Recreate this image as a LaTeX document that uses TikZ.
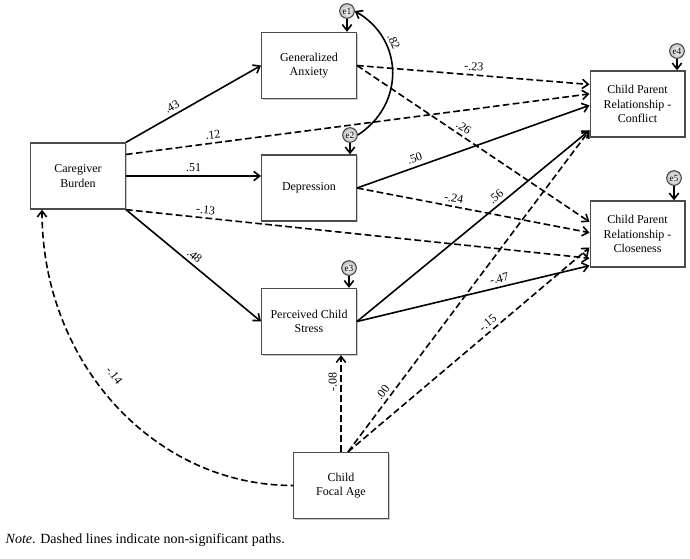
\documentclass[tikz,border=0pt]{standalone}
\usepackage{fontspec}
\setmainfont{Liberation Serif}
\usetikzlibrary{arrows.meta,calc,shadows}

\begin{document}
\begin{tikzpicture}[x=0.75pt, y=-0.75pt,
    varbox/.style={draw=black!70, line width=1pt, fill=white, minimum width=71pt, minimum height=49.5pt, align=center, font=\fontsize{9}{11}\selectfont,
        drop shadow={shadow xshift=0.9pt, shadow yshift=-0.9pt, opacity=0.35, fill=black!60}},
    errc/.style={circle, draw=black!80, line width=0.7pt, inner sep=0pt, minimum size=11pt, inner color=white, outer color=black!25, font=\fontsize{7}{7}\selectfont},
    sig/.style={line width=1.2pt, -{Straight Barb[length=4.5pt, width=7pt]}},
    nonsig/.style={sig, dash pattern=on 5pt off 2.5pt},
    coef/.style={font=\fontsize{9}{9}\selectfont, sloped, above, inner sep=2.5pt}]
    \useasboundingbox (0,0) rectangle (690,558);

    % variables
    \node[varbox] (cb) at (78,176) {Caregiver\\Burden};
    \node[varbox] (ga) at (309,65.5) {Generalized\\Anxiety};
    \node[varbox] (dep) at (309,188) {Depression};
    \node[varbox] (pcs) at (309,321.5) {Perceived Child\\Stress};
    \node[varbox] (cfa) at (341,485.5) {Child\\Focal Age};
    \node[varbox] (conf) at (637.5,104) {Child Parent\\Relationship -\\Conflict};
    \node[varbox] (clos) at (637.5,234) {Child Parent\\Relationship -\\Closeness};

    % error terms
    \node[errc] (e1) at (347,11) {e1};
    \node[errc] (e2) at (350,135) {e2};
    \node[errc] (e3) at (349,268) {e3};
    \node[errc] (e4) at (677,51) {e4};
    \node[errc] (e5) at (674,178) {e5};
    \draw[sig] (e1) -- (e1 |- ga.north);
    \draw[sig] (e2) -- (e2 |- dep.north);
    \draw[sig] (e3) -- (e3 |- pcs.north);
    \draw[sig] (e4) -- (e4 |- conf.north);
    \draw[sig] (e5) -- (e5 |- clos.north);
    \draw[sig, {Straight Barb[length=4.5pt, width=7pt]}-] (e1.east) .. controls +(50,29) and +(46.5,-30) .. (e2.east) node[coef, pos=.3] {.82};

    % paths from caregiver burden
    \draw[sig] (cb.north east) -- (ga.west) node[coef, pos=.37] {.43};
    \draw[nonsig] ($(cb.north east)!.18!(cb.south east)$) -- ($(conf.north west)!.35!(conf.south west)$) node[coef, pos=.19] {.12};
    \draw[sig] (cb.east) -- (cb.east -| dep.west) node[coef, pos=.5] {.51};
    \draw[nonsig] (cb.south east) -- ($(clos.north west)!.86!(clos.south west)$) node[coef, pos=.17] {-.13};
    \draw[sig] (cb.south east) -- (pcs.west) node[coef, pos=.47] {.48};

    % mediators to outcomes
    \draw[nonsig] (ga.east) -- ($(conf.north west)!.21!(conf.south west)$) node[coef, pos=.5] {-.23};
    \draw[nonsig] (ga.east) -- ($(clos.north west)!.32!(clos.south west)$) node[coef, pos=.44] {.26};
    \draw[sig] (dep.east) -- ($(conf.north west)!.52!(conf.south west)$) node[coef, pos=.26] {.50};
    \draw[nonsig] (dep.east) -- ($(clos.north west)!.48!(clos.south west)$) node[coef, pos=.41] {-.24};
    \draw[sig] (pcs.east) -- ($(conf.north west)!.89!(conf.south west)$) node[coef, pos=.62] {.56};
    \draw[sig] (pcs.east) -- ($(clos.north west)!.97!(clos.south west)$) node[coef, pos=.62] {-.47};

    % child focal age
    \draw[nonsig] (cfa.north) -- (cfa.north |- pcs.south) node[coef, pos=.72] {-.08};
    \draw[nonsig] ($(cfa.north)+(7,0)$) -- ($(conf.north west)!.89!(conf.south west)$) node[coef, pos=.17] {.00};
    \draw[nonsig] ($(cfa.north)+(7,0)$) -- ($(clos.north west)!.70!(clos.south west)$) node[coef, pos=.6] {-.15};
    \draw[nonsig, {Straight Barb[length=4.5pt, width=7pt]}-] ($(cb.south west)+(12,0)$) .. controls +(0,153) and +(-139,0) .. (cfa.west) node[coef, pos=.44, inner sep=10pt] {-.14};

    \node[anchor=west, font=\fontsize{10.5}{12}\selectfont] (note) at (1,540) {\textit{Note}. Dashed lines indicate non-significant paths.};
\end{tikzpicture}
\end{document}
